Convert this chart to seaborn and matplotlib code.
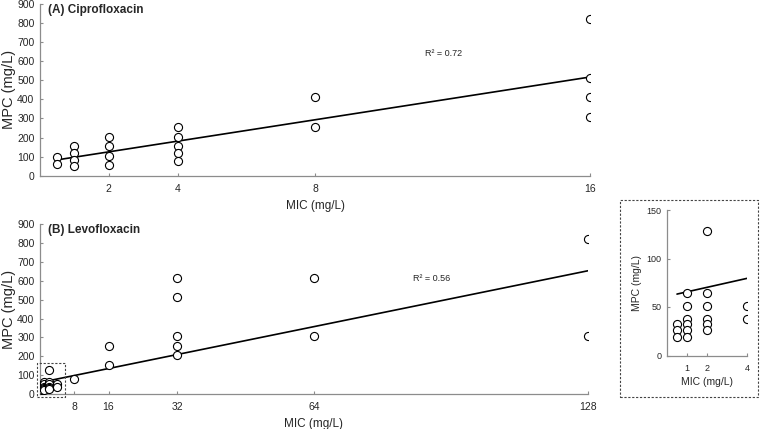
import numpy as np
import pandas as pd
import matplotlib
matplotlib.use("Agg")
import matplotlib.pyplot as plt
from matplotlib.patches import Rectangle
import seaborn as sns

sns.set_theme(style="white")
plt.rcParams['font.family'] = ['Liberation Sans', 'DejaVu Sans']

# Ciprofloxacin: MIC vs MPC (mg/L)
cip_mic = [0.5, 0.5, 1, 1, 1, 1, 2, 2, 2, 2, 4, 4, 4, 4, 4, 8, 8, 16, 16, 16, 16]
cip_mpc = [100, 62, 154, 118, 84, 51, 205, 154, 104, 55, 256, 205, 154, 120, 77,
           410, 256, 820, 512, 410, 307]

# Levofloxacin: MIC vs MPC (mg/L)
levo_mic = [0.5, 0.5, 0.5, 1, 1, 1, 1, 1, 1, 2, 2, 2, 2, 2, 2, 4, 4, 8, 16, 16,
            32, 32, 32, 32, 32, 64, 64, 128, 128]
levo_mpc = [32, 26, 19, 64, 51, 38, 32, 26, 19, 128, 64, 51, 38, 32, 26, 51, 38, 77,
            256, 154, 615, 512, 307, 256, 205, 615, 307, 820, 307]

# levofloxacin trend line as drawn in the figure (slope, intercept)
levo_fit = [4.63, 61]

cip_ticks = [2, 4, 8, 16]
levo_ticks = [8, 16, 32, 64, 128]
inset_ticks = [1, 2, 4]
cip_r2 = "R² = 0.72"
levo_r2 = "R² = 0.56"

cip = pd.DataFrame({'MIC': cip_mic, 'MPC': cip_mpc})
levo = pd.DataFrame({'MIC': levo_mic, 'MPC': levo_mpc})
small = levo[levo['MIC'] <= 4]

fig = plt.figure(figsize=(7.6, 4.29), dpi=100)
ax_a = fig.add_axes([40 / 760, 1 - 175.7 / 429, 550 / 760, 171.7 / 429])
ax_b = fig.add_axes([40 / 760, 1 - 394 / 429, 548 / 760, 169.7 / 429])
ax_in = fig.add_axes([667 / 760, 1 - 355.5 / 429, 80 / 760, 145.5 / 429])

axis_grey = '#8c8c8c'
circle = dict(s=34, facecolor='white', edgecolor='black', linewidth=0.8, zorder=3)


def style_axis(ax, ticks, xmax, ymax, yticks, tick_size, xlab_size, ylab_size):
    ax.set_xlim(0, xmax)
    ax.set_ylim(0, ymax)
    ax.set_xticks(ticks)
    ax.set_yticks(yticks)
    ax.tick_params(axis='both', direction='in', length=2.5, width=0.8,
                   color=axis_grey, labelsize=tick_size, pad=4,
                   left=True, bottom=True)
    ax.tick_params(axis='x', pad=6)
    sns.despine(ax=ax)
    for side in ['left', 'bottom']:
        ax.spines[side].set_color(axis_grey)
        ax.spines[side].set_linewidth(0.9)
    ax.set_xlabel('MIC (mg/L)', fontsize=xlab_size, labelpad=4)
    ax.set_ylabel('MPC (mg/L)', fontsize=ylab_size, labelpad=1)


def trend(ax, x, fit):
    xs = np.array([min(x), max(x)])
    sns.lineplot(x=xs, y=fit[1] + fit[0] * xs, ax=ax, color='black', linewidth=1.2, zorder=2)


# (A) Ciprofloxacin
sns.regplot(data=cip, x='MIC', y='MPC', ax=ax_a, ci=None, scatter=False, truncate=True,
            line_kws=dict(color='black', linewidth=1.2, zorder=2))
sns.scatterplot(data=cip, x='MIC', y='MPC', ax=ax_a, **circle)
style_axis(ax_a, cip_ticks, 16, 900, range(0, 901, 100), 7.5, 8.5, 10.5)
ax_a.text(0.015, 1.0, '(A) Ciprofloxacin', transform=ax_a.transAxes, fontsize=8.5,
          fontweight='bold', va='top', ha='left')
ax_a.text(11.2, 643, cip_r2, fontsize=6.5, va='center', ha='left')

# (B) Levofloxacin
trend(ax_b, levo_mic, levo_fit)
sns.scatterplot(data=levo, x='MIC', y='MPC', ax=ax_b, **circle)
style_axis(ax_b, levo_ticks, 128, 900, range(0, 901, 100), 7.5, 8.5, 10.5)
ax_b.text(0.015, 1.0, '(B) Levofloxacin', transform=ax_b.transAxes, fontsize=8.5,
          fontweight='bold', va='top', ha='left')
ax_b.text(87.2, 613, levo_r2, fontsize=6.5, va='center', ha='left')
ax_b.add_patch(Rectangle((-0.7, -16), 6.5, 180, fill=False, linestyle=(0, (2, 1.5)),
                         linewidth=0.8, edgecolor='#444444', clip_on=False, zorder=4))

# inset: low-MIC levofloxacin isolates, with the panel B trend line
trend(ax_in, small['MIC'], levo_fit)
sns.scatterplot(data=small, x='MIC', y='MPC', ax=ax_in, **circle)
style_axis(ax_in, inset_ticks, 4, 150, [0, 50, 100, 150], 6.5, 7.5, 7.5)
ax_in.xaxis.labelpad = 3
ax_in.yaxis.labelpad = 3

fig.add_artist(Rectangle((620 / 760, 1 - 397 / 429), 138 / 760, 197 / 429,
                         transform=fig.transFigure, fill=False,
                         linestyle=(0, (2, 1.5)), linewidth=0.8, edgecolor='#444444'))

fig.savefig('out.png', dpi=100)
